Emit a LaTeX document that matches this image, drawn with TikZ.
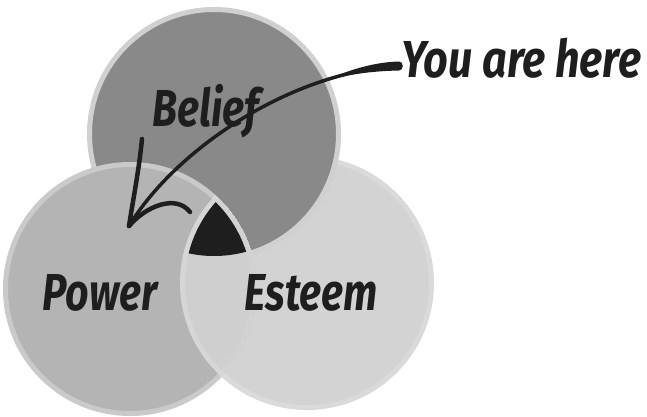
\documentclass[tikz,border=0pt]{standalone}
\usepackage{fontspec}
\newfontfamily\hand[FakeStretch=0.79]{Fira Sans}
\newfontfamily\handwide[FakeStretch=0.83]{Fira Sans}
\definecolor{beliefc}{HTML}{898989}
\definecolor{beliefring}{HTML}{D0D0D0}
\definecolor{powerc}{HTML}{B4B4B4}
\definecolor{powerring}{HTML}{CACACA}
\definecolor{esteemc}{HTML}{D3D3D3}
\definecolor{esteemring}{HTML}{DADADA}
\definecolor{inkc}{HTML}{1E1E1E}
\tikzset{
  ring/.style={line width=5pt},
  lbl/.style={font=\hand\bfseries\itshape\fontsize{52}{52}\selectfont, text=inkc, inner sep=0pt},
  lblwide/.style={lbl, font=\handwide\bfseries\itshape\fontsize{52}{52}\selectfont},
  ink/.style={draw=inkc, line cap=round, line join=round}
}
\begin{document}
\begin{tikzpicture}[x=1pt,y=-1pt]
\useasboundingbox (0,0) rectangle (647,417);
\coordinate (B) at (214,134);
\coordinate (P) at (130,289);
\coordinate (E) at (307,283);
% Esteem (bottom layer)
\filldraw[fill=esteemc, draw=esteemring, ring] (E) circle[radius=124.5pt];
% Belief over Esteem
\filldraw[fill=beliefc, draw=beliefring, ring] (B) circle[radius=124.5pt];
% Power over Belief
\filldraw[fill=powerc, draw=powerring, ring] (P) circle[radius=124.5pt];
% Esteem over Power
\begin{scope}
  \clip (P) circle[radius=127pt];
  \begin{scope}[transparency group, opacity=0.9]
    \filldraw[fill=esteemc, draw=esteemring, ring] (E) circle[radius=124.5pt];
  \end{scope}
\end{scope}
% triple overlap
\begin{scope}
  \clip (P) circle[radius=122pt];
  \clip (B) circle[radius=122pt];
  \fill[inkc] (E) circle[radius=122pt];
\end{scope}
% labels
\node[lbl, anchor=base] (belief) at (206,126) {Belief};
\node[lbl, anchor=base] (power) at (100,310) {Power};
\node[lbl, anchor=base] (esteem) at (311,310) {Esteem};
\node[lblwide, anchor=base west] (you) at (401,78) {You are here};
% arrow
\coordinate (tip) at (129,226);
\coordinate (barbL) at (142,139);
\coordinate (barbR) at (190,212);
\draw[ink, line width=3.5pt] ([shift={(-2,-12)}]you.base west) .. controls (290,72) and (175,150) .. (tip);
\fill[inkc] ([shift={(-2,-16.5)}]you.base west) .. controls (378,62) and (352,68) .. (325,81)
   .. controls (352,73) and (378,71) .. ([shift={(-2,-7.5)}]you.base west)
   .. controls +(5,0) and +(5,0) .. ([shift={(-2,-16.5)}]you.base west) -- cycle;
\draw[ink, line width=4.5pt] (barbL) .. controls (139,170) and (133,200) .. (tip);
\draw[ink, line width=4.5pt] (tip) .. controls (146,206) and (176,194) .. (barbR);
\end{tikzpicture}
\end{document}
